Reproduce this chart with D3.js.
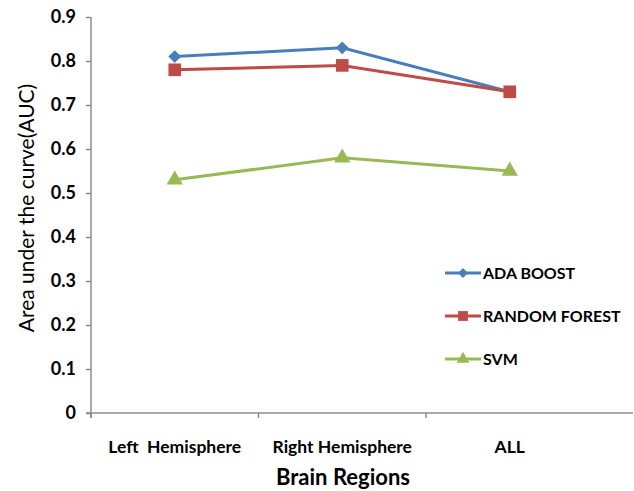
<!DOCTYPE html>
<html>
<head>
<meta charset="utf-8">
<script src="https://cdn.jsdelivr.net/npm/d3@7"></script>
<style>
  body { margin: 0; background: #fff; }
  text { font-family: Lato, "Open Sans", sans-serif; }
</style>
</head>
<body>
<script>
const categories = ["Left  Hemisphere", "Right Hemisphere", "ALL"];
const adaBoost = [0.81, 0.83, 0.73];
const randomForest = [0.78, 0.79, 0.73];
const svmValues = [0.53, 0.58, 0.55];
const yTicks = [0, 0.1, 0.2, 0.3, 0.4, 0.5, 0.6, 0.7, 0.8, 0.9];

const series = [
    { name: "ADA BOOST", values: adaBoost, colour: "#4a7ebb", symbol: d3.symbolDiamond2, size: 105 },
    { name: "RANDOM FOREST", values: randomForest, colour: "#be4b48", symbol: d3.symbolSquare, size: 160 },
    { name: "SVM", values: svmValues, colour: "#98b954", symbol: d3.symbolTriangle, size: 115 }
];

const width = 634;
const height = 491;
const plotLeft = 91, plotTop = 17, plotBottom = 413;

const svg = d3.select("body")
    .append("svg")
    .attr("width", width)
    .attr("height", height);

const x = d3.scaleBand()
    .domain(categories)
    .range([plotLeft, 593.5]);
const y = d3.scaleLinear()
    .domain([0, 0.9])
    .range([plotBottom, plotTop]);

const axisColour = "#8c8c8c";

// y axis
const yAxis = svg.append("g")
    .attr("transform", `translate(${plotLeft},0)`)
    .call(d3.axisLeft(y).tickValues(yTicks).tickSize(5).tickPadding(10)
        .tickFormat(d => d === 0 ? "0" : d3.format(".1f")(d)));
yAxis.select(".domain").remove();
yAxis.append("line")
    .attr("y1", plotTop).attr("y2", plotBottom + 5)
    .attr("stroke", axisColour).attr("stroke-width", 1.5);
yAxis.selectAll(".tick line").attr("stroke", axisColour).attr("stroke-width", 1.5);
yAxis.selectAll(".tick text")
    .attr("fill", "#000")
    .style("font-size", "18px")
    .style("font-weight", "bold");

// x axis
const xAxisG = svg.append("g").attr("transform", `translate(0,${plotBottom})`);
xAxisG.append("line")
    .attr("x1", plotLeft - 5).attr("x2", 633)
    .attr("stroke", axisColour).attr("stroke-width", 1.5);
xAxisG.selectAll("line.tick")
    .data(categories)
    .join("line")
    .attr("class", "tick")
    .attr("x1", d => x(d)).attr("x2", d => x(d))
    .attr("y1", 0).attr("y2", 5)
    .attr("stroke", axisColour).attr("stroke-width", 1.5);
xAxisG.selectAll("text")
    .data(categories)
    .join("text")
    .attr("x", d => x(d) + x.bandwidth() / 2)
    .attr("y", 40)
    .attr("text-anchor", "middle")
    .style("font-size", "17.5px")
    .style("font-weight", "bold")
    .style("white-space", "pre")
    .text(d => d);

// titles
svg.append("text")
    .attr("x", 343)
    .attr("y", 485)
    .attr("text-anchor", "middle")
    .style("font-size", "22px")
    .style("font-weight", "bold")
    .text("Brain Regions");
svg.append("text")
    .attr("transform", "translate(34,208) rotate(-90)")
    .attr("text-anchor", "middle")
    .style("font-size", "21px")
    .text("Area under the curve(AUC)");

// series
const line = d3.line()
    .x((d, i) => x(categories[i]) + x.bandwidth() / 2)
    .y(d => y(d));

series.forEach(s => {
    svg.append("path")
        .datum(s.values)
        .attr("d", line)
        .attr("fill", "none")
        .attr("stroke", s.colour)
        .attr("stroke-width", 3);
    svg.selectAll(null)
        .data(s.values)
        .join("path")
        .attr("transform", (d, i) => `translate(${x(categories[i]) + x.bandwidth() / 2},${y(d)})`)
        .attr("d", d3.symbol(s.symbol, s.size))
        .attr("fill", s.colour);
});

// legend
const legend = svg.append("g").attr("transform", "translate(445,273)");
series.forEach((s, i) => {
    const g = legend.append("g").attr("transform", `translate(0,${i * 43})`);
    g.append("line")
        .attr("x1", 0).attr("x2", 36)
        .attr("stroke", s.colour).attr("stroke-width", 3);
    g.append("path")
        .attr("transform", "translate(18,0)")
        .attr("d", d3.symbol(s.symbol, s.size * 0.6))
        .attr("fill", s.colour);
    g.append("text")
        .attr("x", 38)
        .attr("y", 6)
        .style("font-size", "16px")
        .style("font-weight", "bold")
        .text(s.name);
});
</script>
</body>
</html>
